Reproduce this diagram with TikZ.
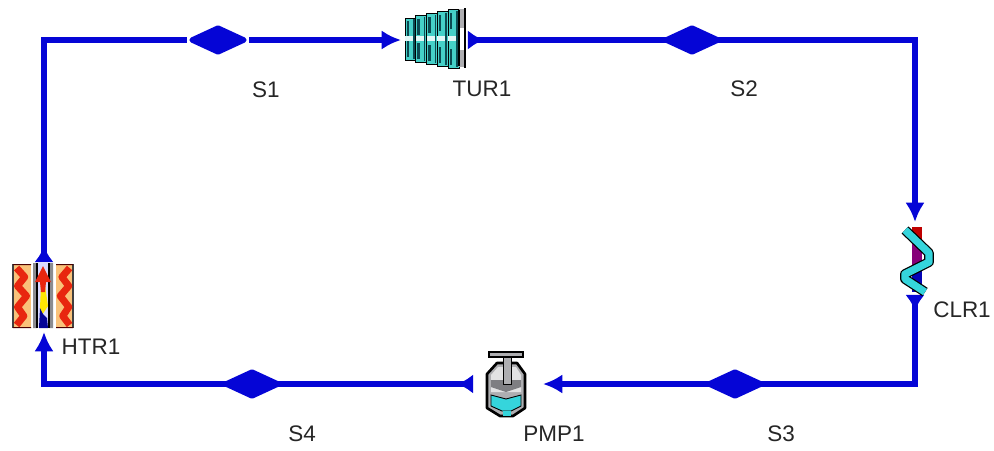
\documentclass[tikz,border=0pt]{standalone}
\usepackage{fontspec}
\usepackage{xcolor}
\setmainfont{Liberation Sans}
\usetikzlibrary{shapes.geometric, arrows.meta, positioning, calc}
\definecolor{pipeblue}{HTML}{0505D6}
\definecolor{teal}{HTML}{45D0C8}
\definecolor{darkteal}{HTML}{0B4A52}
\definecolor{liquid}{HTML}{35D5DC}
\definecolor{flamered}{HTML}{E8260F}
\definecolor{flamebg}{HTML}{F9C27A}
\definecolor{metal}{HTML}{8C8C90}
\tikzset{
    pipe/.style={draw=pipeblue, line width=3pt},
    inport/.style={-{Latex[length=11pt,width=11pt]}},
    outport/.style={{Latex[reversed,length=9pt,width=11pt]}-},
    stream/.style={shape=diamond, fill=pipeblue, draw=pipeblue, line width=3pt, line join=round,
        inner sep=0pt, outer sep=0pt, minimum width=1.04cm, minimum height=0.48cm},
    unit/.style={inner sep=0pt, outer sep=0pt},
    tag/.style={font=\fontsize{12.8}{15}\selectfont, text=black!85, inner sep=0pt}
}
\begin{document}
\begin{tikzpicture}[x=0.02cm, y=-0.02cm]
    \useasboundingbox[fill=white] (0,0) rectangle (994,450);

    % units
    \node[unit, minimum width=1.34cm, minimum height=1.2cm] (TUR1) at (434.5,40) {};
    \node[unit, minimum width=0.6cm, minimum height=1.46cm] (CLR1) at (915,258.5) {};
    \node[unit, minimum width=1.4cm, minimum height=1.3cm] (PMP1) at (508,384) {};
    \node[unit, minimum width=1.2cm, minimum height=1.4cm] (HTR1) at (44,297) {};

    % streams
    \node[stream] (S1) at (218,40) {};
    \node[stream] (S2) at (692,40) {};
    \node[stream] (S3) at (735,384) {};
    \node[stream] (S4) at (252,384) {};

    % pipes
    \draw[pipe, outport, shorten >=3pt] (HTR1.north) |- (S1.west);
    \draw[pipe, inport, shorten <=3pt] (S1.east) -- (TUR1.west);
    \draw[pipe, outport] (TUR1.east) -- (S2.west);
    \draw[pipe, inport] (S2.east) -| (CLR1.north);
    \draw[pipe, outport] (CLR1.south) |- (S3.east);
    \draw[pipe, inport] (S3.west) -- (PMP1.east);
    \draw[pipe, outport] (PMP1.west) -- (S4.east);
    \draw[pipe, inport] (S4.west) -| (HTR1.south);

    % turbine
    \foreach \i in {0,1,2,3,4} {
        \pgfmathsetmacro{\xa}{405+10.8*\i}
        \pgfmathsetmacro{\ya}{18-2.1*\i}
        \pgfmathsetmacro{\yb}{60+2.1*\i}
        \fill[teal, draw=black, line width=0.5pt] (\xa,\ya) rectangle ++(10.8,\yb-\ya);
        \fill[darkteal] (\xa+1.5,\ya+3) rectangle ++(2.5,16);
        \fill[darkteal] (\xa+1.5,\yb-3) rectangle ++(2.5,-16);
        \fill[white!85!teal] (\xa,36) rectangle ++(8,5);
        \fill[darkteal] (\xa+8,\ya+1) rectangle ++(1.5,\yb-\ya-2);
    }
    \fill[metal!70!white] (459,9) rectangle (465,67);
    \fill[white] (459,28) rectangle (465,50);
    \draw[black, line width=0.8pt] (465,8) -- (465,68) (459,10) -- (459,66);

    % heater
    \foreach \xa/\xb in {13/31, 73/56} {
        \fill[flamebg] (\xa,264) rectangle (\xb,328);
        \draw[black!75, line width=0.8pt] (\xa,328) -- (\xa,264);
        \draw[flamered, line width=4pt, line join=round]
            (\xa*0.8+\xb*0.2,268) -- (\xa*0.35+\xb*0.65,277) -- (\xa*0.75+\xb*0.25,286)
            -- (\xa*0.25+\xb*0.75,296) -- (\xa*0.75+\xb*0.25,307) -- (\xa*0.4+\xb*0.6,316) -- (\xa*0.8+\xb*0.2,325);
    }
    \fill[black!70!red] (13,264) rectangle (31,265) (56,264) rectangle (73,265) (13,327) rectangle (31,328) (56,327) rectangle (73,328);
    \fill[blue!15!white] (33,263) rectangle (53,328);
    \fill[metal] (33,263) rectangle (37,328) (49,263) rectangle (53,328);
    \draw[black, line width=0.6pt] (37,263) -- (37,328) (49,263) -- (49,328);
    \fill[yellow!90!orange] (41,285) -- (45,285) -- (48,306) -- (42,315) -- (40,308) -- cycle;
    \fill[pipeblue!70!black] (40,308) -- (43,314) -- (47,318) -- (48,328) -- (39,328) -- cycle;
    \fill[flamered] (43,266) -- (51,282) -- (46,282) -- (45,292) -- (41,292) -- (40,282) -- (35,282) -- cycle;

    % cooler
    \fill[pipeblue!85!black] (912,227) rectangle (922,292);
    \fill[red!75!black] (912,227) rectangle (922,243);
    \fill[purple!70!blue] (912,243) rectangle (922,268);
    \draw[black, line width=5.6pt, line join=round] (905,230) -- (929,253) -- (929,262) -- (905,274) -- (905,279) -- (925,292);
    \draw[liquid, line width=4.2pt, line join=round] (905,230) -- (929,253) -- (929,262) -- (905,274) -- (905,279) -- (925,292);

    % pump
    \fill[metal!70!white, draw=black, line width=0.7pt] (489,352) rectangle (523,357);
    \fill[metal!70!white, draw=black, line width=1.5pt, line join=round] (487,374) -- (497,363) -- (517,363) -- (525,374) -- (525,408) -- (513,416) -- (500,416) -- (487,408) -- cycle;
    \fill[white!75!metal] (491,375) -- (498,367) -- (516,367) -- (521,375) -- (521,392) -- (491,392) -- cycle;
    \fill[metal!90!black] (491,380) -- (521,380) -- (521,387) -- (506,392) -- (491,387) -- cycle;
    \fill[liquid, draw=black, line width=0.5pt] (491,395) -- (506,399) -- (521,395) -- (521,406) -- (511,411) -- (502,411) -- (491,406) -- cycle;
    \fill[liquid] (503,411) rectangle (511,416);
    \fill[metal!70!white, draw=black, line width=0.5pt] (503,357) rectangle (511,384);

    % labels
    \node[tag] (S1 tag) at (266,90) {S1};
    \node[tag] (TUR1 tag) at (482,89) {TUR1};
    \node[tag] (S2 tag) at (744,89) {S2};
    \node[tag] (CLR1 tag) at (962,310) {CLR1};
    \node[tag] (HTR1 tag) at (91,347) {HTR1};
    \node[tag] (S4 tag) at (302,434) {S4};
    \node[tag] (PMP1 tag) at (554,434) {PMP1};
    \node[tag] (S3 tag) at (781,434) {S3};
\end{tikzpicture}
\end{document}
